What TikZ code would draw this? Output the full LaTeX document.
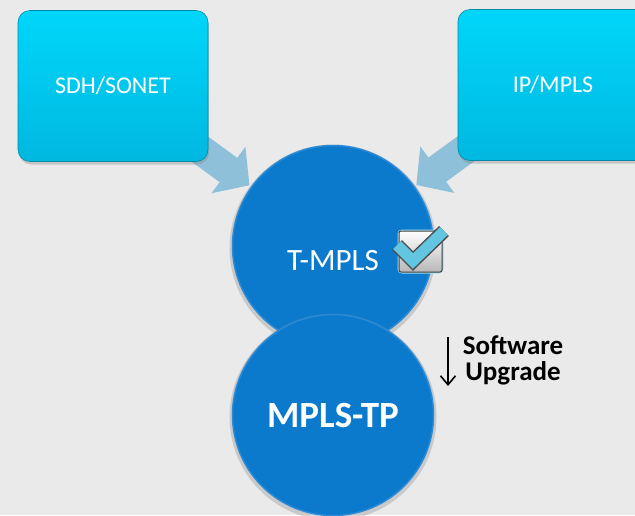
\documentclass[tikz,border=0pt]{standalone}
\usepackage{fontspec}
\setmainfont{Carlito}
\usetikzlibrary{arrows.meta,shadows,backgrounds}

\definecolor{bgcol}{HTML}{EAEAEA}
\definecolor{boxtop}{HTML}{00D6FA}
\definecolor{boxbot}{HTML}{00B8E0}
\definecolor{disccol}{HTML}{0B79CC}
\definecolor{discedge}{HTML}{2A8AD6}
\definecolor{feedcol}{HTML}{8EC1D9}
\definecolor{tickcol}{HTML}{62C6E0}

\tikzset{
  netbox/.style={rounded corners=12pt, minimum width=190pt, minimum height=151pt,
    top color=boxtop, bottom color=boxbot, draw=boxbot!75!black, line width=0.6pt,
    text=white, font=\fontsize{24}{28}\selectfont,
    drop shadow={shadow xshift=1pt, shadow yshift=-3pt, opacity=0.35}},
  disc/.style={circle, minimum size=201pt, inner sep=0pt, fill=disccol,
    draw=discedge, line width=1.5pt, text=white,
    drop shadow={shadow xshift=0pt, shadow yshift=-2pt, shadow scale=1.03, opacity=0.3}},
  feed/.style={line width=30pt, draw=feedcol, shorten >=2pt,
    -{Triangle[length=26pt,width=56pt]}}
}

\begin{document}
\begin{tikzpicture}[x=1pt, y=-1pt]
\useasboundingbox (0,0) rectangle (635,515);
\clip (0,0) rectangle (635,515);

% the two feeding networks
\node[netbox] (sdh) at (113,86) {SDH/SONET};
\node[netbox] (ipm) at (553,85) {IP/MPLS};

% old and new transport profile
\node[disc, label={[text=white, font=\fontsize{31}{34}\selectfont, yshift=-15pt]center:T-MPLS}] (tmpls) at (333,246) {};
\node[disc, font=\bfseries\fontsize{37}{40}\selectfont] (mplstp) at (333,415) {MPLS-TP};

\begin{pgfonlayer}{background}
\fill[bgcol] (0,0) rectangle (635,515);
\draw[feed] (sdh.center) -- (tmpls);
\draw[feed] (ipm.center) -- (tmpls);
\end{pgfonlayer}

% tick box
\draw[tickcol!60, line width=3pt, rounded corners=3pt] (399,231) rectangle (442,272);
\draw[black!75, line width=1pt, top color=white, bottom color=black!28, rounded corners=2pt] (399,231) rectangle (442,272);
\draw[black!70, line width=14pt] (397,245) -- (413,261) -- (444,231);
\draw[tickcol, line width=11pt] (397,245) -- (413,261) -- (444,231);

% upgrade step
\coordinate (upgtop) at (448,337);
\coordinate (upgbot) at (448,386);
\draw[line width=1.6pt, -{Straight Barb[length=9pt,width=15pt]}] (upgtop) -- (upgbot);
\node[font=\bfseries\fontsize{27}{26}\selectfont, align=center] (upg) at (513,360) {Software\\Upgrade};
\end{tikzpicture}
\end{document}
